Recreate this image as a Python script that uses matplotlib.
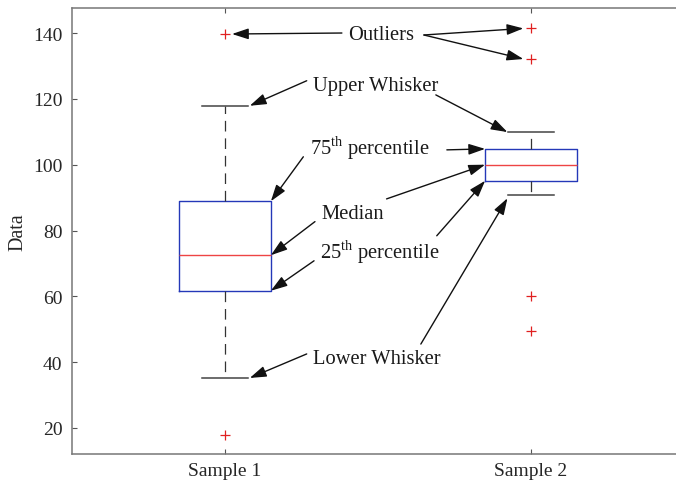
import matplotlib
matplotlib.use('Agg')
import matplotlib.pyplot as plt

plt.rcParams['font.family'] = ['Liberation Serif', 'DejaVu Serif']
plt.rcParams['mathtext.fontset'] = 'custom'
plt.rcParams['mathtext.rm'] = 'Liberation Serif'

# valores
amostras = ['Sample 1', 'Sample 2']
q1 = [61.7, 95.1]
mediana = [72.5, 100.0]
q3 = [88.9, 104.8]
bigode_inf = [35.2, 90.8]
bigode_sup = [117.9, 109.9]
outliers = [[139.7, 17.9], [141.4, 132.1, 60.0, 49.4]]

posicoes = [1, 2]
larg_caixa = 0.3
larg_cap = 0.15

stats = []
for i in range(len(amostras)):
    stats.append({'label': amostras[i], 'q1': q1[i], 'med': mediana[i], 'q3': q3[i],
                  'whislo': bigode_inf[i], 'whishi': bigode_sup[i], 'fliers': outliers[i]})

fig = plt.figure(figsize=(6.76, 4.89), dpi=100)
ax = fig.add_axes([72 / 676, 1 - 455 / 489, 612 / 676, 446 / 489])

ax.bxp(stats, positions=posicoes, widths=larg_caixa, capwidths=larg_cap,
       boxprops=dict(color='#2438b8', lw=1.0),
       medianprops=dict(color='#ee4444', lw=1.0),
       whiskerprops=dict(color='#333333', lw=0.9, linestyle=(0, (8.5, 5.5))),
       capprops=dict(color='#444444', lw=1.1),
       flierprops=dict(marker='+', markeredgecolor='#e02020', markersize=6.5, markeredgewidth=0.9))

ax.set_xlim(0.5, 2.5)
ax.set_ylim(12.1, 147.6)
ax.set_yticks([20, 40, 60, 80, 100, 120, 140])
ax.set_xticks(posicoes)
ax.set_xticklabels(amostras)

for lado in ['left', 'top', 'bottom']:
    ax.spines[lado].set_color('#777777')
    ax.spines[lado].set_linewidth(1.1)
ax.spines['right'].set_visible(False)
ax.tick_params(direction='in', length=3.6, width=0.8, color='#555555',
               labelsize=14, labelcolor='#262626', top=True, right=False)
ax.tick_params(axis='y', pad=7)
ax.tick_params(axis='x', pad=6)

ax.set_ylabel('Data', fontsize=14.5, color='#262626', va='center')
ax.yaxis.set_label_coords(-0.088, 0.5)

seta = dict(arrowstyle='-|>,head_length=1.0,head_width=0.33', color='#111111', lw=1.0,
            shrinkA=0, shrinkB=0)
fs = 14.8

def anotar(texto, pos_texto, inicios, alvos):
    ax.text(pos_texto[0], pos_texto[1], texto, fontsize=fs, ha='center', va='center', color='#1a1a1a')
    for ini, alvo in zip(inicios, alvos):
        ax.annotate('', xy=alvo, xytext=ini, arrowprops=seta)

# Outliers
anotar('Outliers', (1.510, 139.4),
       [(1.382, 140.0), (1.650, 139.4), (1.650, 139.4)],
       [(1 + 0.023, outliers[0][0]), (2 - 0.025, outliers[1][0]), (2 - 0.025, outliers[1][1])])

# Upper Whisker
anotar('Upper Whisker', (1.493, 124.0),
       [(1.267, 125.5), (1.689, 121.2)],
       [(1 + larg_cap / 2 + 0.006, bigode_sup[0]), (2 - larg_cap / 2 - 0.002, bigode_sup[1])])

# 75th percentile
anotar('75$^{\\mathrm{th}}$ percentile', (1.472, 105.2),
       [(1.256, 102.4), (1.725, 104.5)],
       [(1 + larg_caixa / 2, q3[0]), (2 - larg_caixa / 2, q3[1])])

# Median
anotar('Median', (1.417, 85.2),
       [(1.294, 82.7), (1.528, 89.6)],
       [(1 + larg_caixa / 2, mediana[0]), (2 - larg_caixa / 2, mediana[1])])

# 25th percentile
anotar('25$^{\\mathrm{th}}$ percentile', (1.507, 73.6),
       [(1.291, 70.8), (1.692, 78.4)],
       [(1 + larg_caixa / 2, q1[0]), (2 - larg_caixa / 2, q1[1])])

# Lower Whisker
anotar('Lower Whisker', (1.496, 41.2),
       [(1.267, 42.5), (1.640, 45.5)],
       [(1 + larg_cap / 2 + 0.006, bigode_inf[0]), (2 - larg_cap / 2 - 0.002, bigode_inf[1] - 1.0)])

fig.savefig('out.png', dpi=100)
